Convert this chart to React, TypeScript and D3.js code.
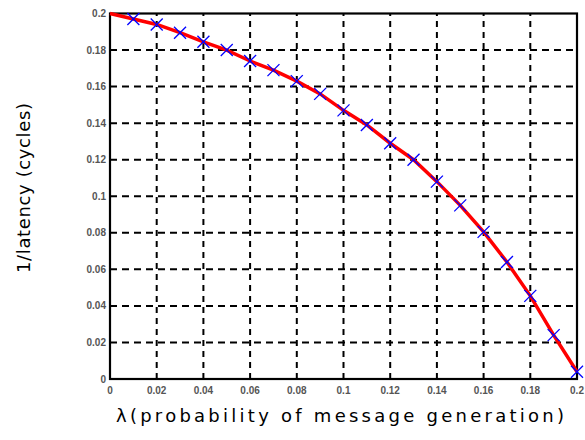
import React from 'react';
import * as d3 from 'd3';

// probability of message generation (x) and measured 1/latency (y)
const lambdaVals = [0, 0.01, 0.02, 0.03, 0.04, 0.05, 0.06, 0.07, 0.08, 0.09, 0.1,
  0.11, 0.12, 0.13, 0.14, 0.15, 0.16, 0.17, 0.18, 0.19, 0.2];
const invLatency = [0.2, 0.197, 0.194, 0.1895, 0.1845, 0.18, 0.174, 0.169, 0.163, 0.156, 0.147,
  0.139, 0.129, 0.12, 0.108, 0.095, 0.0805, 0.064, 0.0455, 0.024, 0.004];
const xTicks = [0, 0.02, 0.04, 0.06, 0.08, 0.1, 0.12, 0.14, 0.16, 0.18, 0.2];
const yTicks = [0, 0.02, 0.04, 0.06, 0.08, 0.1, 0.12, 0.14, 0.16, 0.18, 0.2];

const W = 585;
const H = 440;
const margin = { top: 13.5, right: 8, bottom: 61, left: 110 };

export default function App() {
  const x = d3.scaleLinear().domain([0, 0.2]).range([margin.left, W - margin.right]);
  const y = d3.scaleLinear().domain([0, 0.2]).range([H - margin.bottom, margin.top]);

  const pts = lambdaVals.map((l, i) => [l, invLatency[i]] as [number, number]);
  const line = d3.line<[number, number]>().x(d => x(d[0])).y(d => y(d[1]));

  const fmt = (v: number) => String(+v.toFixed(2));
  const tickFont = { fontFamily: 'Liberation Sans, Arial, sans-serif', fontSize: 10, fontWeight: 700, fill: '#555' };

  return (
    <svg width={W} height={H} style={{ position: 'fixed', left: 0, top: 0, background: '#fff' }}>
      {/* grid */}
      {xTicks.slice(1, -1).map(t => (
        <line key={'gx' + t} x1={x(t)} x2={x(t)} y1={y(0)} y2={y(0.2)}
          stroke="#000" strokeWidth={2} strokeDasharray="6,5" />
      ))}
      {yTicks.slice(1, -1).map(t => (
        <line key={'gy' + t} x1={x(0)} x2={x(0.2)} y1={y(t)} y2={y(t)}
          stroke="#000" strokeWidth={2} strokeDasharray="7,5" />
      ))}
      {/* frame */}
      <rect x={x(0)} y={y(0.2)} width={x(0.2) - x(0)} height={y(0) - y(0.2)}
        fill="none" stroke="#000" strokeWidth={2.2} />

      {/* tick labels */}
      {yTicks.map(t => (
        <text key={'ty' + t} x={x(0) - 4} y={y(t)} dy="0.35em" textAnchor="end" {...tickFont}>{fmt(t)}</text>
      ))}
      {xTicks.map(t => (
        <text key={'tx' + t} x={x(t)} y={y(0) + 11} dy="0.35em" textAnchor="middle" {...tickFont}>{fmt(t)}</text>
      ))}

      {/* series */}
      <path d={line(pts) || ''} fill="none" stroke="#ff0000" strokeWidth={3.5} />
      {pts.slice(1).map(d => {
        const cx = x(d[0]);
        const cy = y(d[1]);
        const s = 6;
        return (
          <g key={'m' + d[0]} stroke="#0000ff" strokeWidth={1.3}>
            <line x1={cx - s} y1={cy - s} x2={cx + s} y2={cy + s} />
            <line x1={cx - s} y1={cy + s} x2={cx + s} y2={cy - s} />
          </g>
        );
      })}

      {/* axis titles */}
      <text x={340} y={422} textAnchor="middle" fontFamily="DejaVu Sans, sans-serif" fontSize={18}
        textLength={448} lengthAdjust="spacing" fill="#000">λ(probability of message generation)</text>
      <text transform={`translate(30,${188}) rotate(-90)`} textAnchor="middle"
        fontFamily="DejaVu Sans, sans-serif" fontSize={18} textLength={170} lengthAdjust="spacing"
        fill="#000">1/latency  (cycles)</text>
    </svg>
  );
}
